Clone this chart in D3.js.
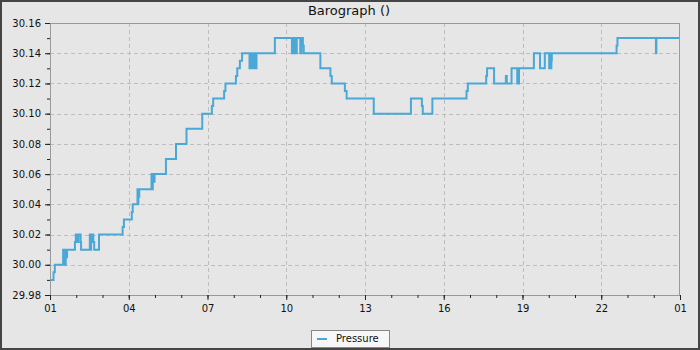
<!DOCTYPE html>
<html><head><meta charset="utf-8">
<script src="https://cdn.jsdelivr.net/npm/d3@7"></script>
<style>html,body{margin:0;padding:0;background:#e6e6e6;}svg{display:block;font-family:"DejaVu Sans",sans-serif;}</style>
</head><body>
<svg id="c" width="700" height="350"></svg>
<script>
const title = "Barograph ()";
const seriesName = "Pressure";
const times = ["01:00","01:08","01:11","01:30","01:32","01:33","01:35","01:36","01:38","01:39","01:57","01:59","02:03","02:05","02:10","02:11","02:31","02:33","02:34","02:36","02:37","02:39","02:41","02:52","03:46","03:49","04:07","04:09","04:20","04:21","04:22","04:23","04:24","04:52","04:54","04:55","04:57","04:59","05:25","05:48","06:12","06:48","07:10","07:13","07:38","07:41","08:05","08:08","08:14","08:19","08:36","08:38","08:39","08:40","08:41","08:43","08:44","08:46","08:47","08:49","08:50","08:52","09:34","10:13","10:14","10:16","10:18","10:19","10:21","10:23","10:24","10:32","10:35","10:38","10:40","11:18","11:41","11:44","12:14","12:18","13:20","14:45","15:10","15:12","15:34","16:52","16:55","17:37","17:39","17:55","18:22","18:24","18:35","18:48","18:52","19:26","19:40","19:51","20:01","20:03","20:04","20:06","20:07","22:35","22:37","00:05","00:06","01:00"];
const pressure = [29.99,29.995,30.00,30.01,30.00,30.01,30.00,30.01,30.005,30.01,30.015,30.02,30.015,30.02,30.015,30.01,30.02,30.01,30.02,30.015,30.02,30.015,30.01,30.02,30.025,30.03,30.035,30.04,30.05,30.04,30.05,30.045,30.05,30.06,30.05,30.06,30.055,30.06,30.07,30.08,30.09,30.10,30.105,30.11,30.115,30.12,30.125,30.13,30.135,30.14,30.13,30.14,30.13,30.14,30.135,30.14,30.13,30.14,30.13,30.14,30.13,30.14,30.15,30.14,30.15,30.14,30.15,30.14,30.15,30.14,30.15,30.14,30.15,30.145,30.14,30.13,30.125,30.12,30.115,30.11,30.10,30.11,30.105,30.10,30.11,30.115,30.12,30.125,30.13,30.12,30.125,30.12,30.13,30.12,30.13,30.14,30.13,30.14,30.13,30.14,30.13,30.135,30.14,30.145,30.15,30.14,30.15,30.15];
const yTicks = [29.98,30.00,30.02,30.04,30.06,30.08,30.10,30.12,30.14,30.16];
const yMinorTicks = [29.98,29.99,30.00,30.01,30.02,30.03,30.04,30.05,30.06,30.07,30.08,30.09,30.10,30.11,30.12,30.13,30.14,30.15,30.16];

// parse times sequentially, rolling over to next day when time goes backwards
const baseDay = new Date(2024,0,1,0,0);
let dayOff = 0, prevMin = -1;
const data = times.map((t,i)=>{
  const [h,m] = t.split(":").map(Number);
  let mins = h*60+m;
  if (i>0 && mins + dayOff*1440 <= prevMin) dayOff += 1;
  mins += dayOff*1440;
  prevMin = mins;
  return {t: new Date(baseDay.getTime() + mins*60000), v: pressure[i]};
});

const svg = d3.select("#c");
const W=700,H=350;
const L=50,R=680,T=23,B=295;
svg.append("rect").attr("x",1).attr("y",1).attr("width",W-2).attr("height",H-2).attr("fill","#e6e6e6").attr("stroke","#454545").attr("stroke-width",2);

const t0 = new Date(2024,0,1,1,0), t1 = new Date(2024,0,2,1,0);
const x = d3.scaleTime().domain([t0,t1]).range([L,R]);
const y = d3.scaleLinear().domain([29.98,30.16]).range([B,T]);
const hourTicks = d3.timeHour.range(t0, new Date(t1.getTime()+60000));
const majorX = hourTicks.filter((d,i)=>i%3===0);

// grid
const g = svg.append("g");
g.selectAll(".gx").data(majorX.filter(d=>x(d)>L+1 && x(d)<R-1)).enter().append("line")
  .attr("x1",d=>Math.round(x(d))+0.5).attr("x2",d=>Math.round(x(d))+0.5).attr("y1",T).attr("y2",B)
  .attr("stroke","#bdbdbd").attr("stroke-dasharray","4,3");
g.selectAll(".gy").data(yTicks.filter(d=>y(d)>T+1 && y(d)<B-1)).enter().append("line")
  .attr("y1",d=>Math.round(y(d))+0.5).attr("y2",d=>Math.round(y(d))+0.5).attr("x1",L).attr("x2",R)
  .attr("stroke","#bdbdbd").attr("stroke-dasharray","4,3");

// line
const line = d3.line().x(d=>x(d.t)).y(d=>y(d.v)).curve(d3.curveStepAfter);
svg.append("path").datum(data).attr("d",line).attr("fill","none").attr("stroke","#4aa8d8").attr("stroke-width",2);

// frame
svg.append("rect").attr("x",L+0.5).attr("y",T+0.5).attr("width",R-L-1).attr("height",B-T).attr("fill","none").attr("stroke","#999");

// axes
const xMinor = d3.axisBottom(x).tickValues(hourTicks).tickSize(3).tickFormat("");
const xMajor = d3.axisBottom(x).tickValues(majorX).tickSize(5).tickFormat(d3.timeFormat("%H"));
const ax1 = svg.append("g").attr("transform",`translate(0,${B})`).call(xMinor);
const ax2 = svg.append("g").attr("transform",`translate(0,${B})`).call(xMajor);
const yMinor = d3.axisLeft(y).tickValues(yMinorTicks).tickSize(3).tickFormat("");
const yMajor = d3.axisLeft(y).tickValues(yTicks).tickSize(5).tickFormat(d3.format(".2f"));
const ay1 = svg.append("g").attr("transform",`translate(${L},0)`).call(yMinor);
const ay2 = svg.append("g").attr("transform",`translate(${L},0)`).call(yMajor);
[ax1,ax2,ay1,ay2].forEach(a=>{
  a.select(".domain").remove();
  a.selectAll(".tick line").attr("stroke","#222");
  a.selectAll(".tick text").attr("fill","#111").attr("font-size",10).attr("font-family","DejaVu Sans");
});
ax2.selectAll(".tick text").attr("dy","0.95em").attr("y",7);
ay2.selectAll(".tick text").attr("x",-9);

// title
svg.append("text").attr("x",349).attr("y",15).attr("text-anchor","middle").attr("font-size",13).attr("fill","#111").text(title);

// legend
const lg = svg.append("g");
lg.append("rect").attr("x",311.5).attr("y",330.5).attr("width",78).attr("height",17).attr("fill","#f7f7f7").attr("stroke","#888");
lg.append("line").attr("x1",317).attr("x2",327).attr("y1",339).attr("y2",339).attr("stroke","#4aa8d8").attr("stroke-width",2);
lg.append("text").attr("x",336).attr("y",342).attr("font-size",10).attr("fill","#111").text(seriesName);
</script>
</body></html>
